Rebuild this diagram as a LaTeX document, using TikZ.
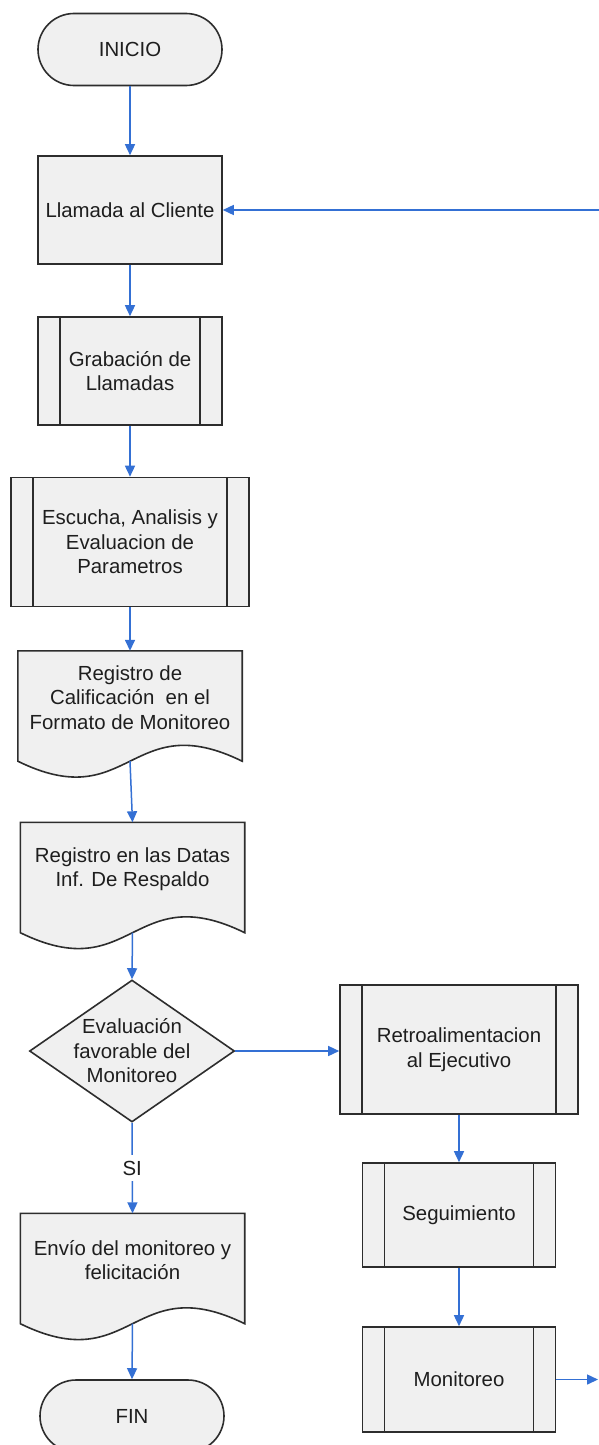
\documentclass[tikz,border=0pt]{standalone}
\usepackage{fontspec}
\setmainfont{Liberation Sans}
\usetikzlibrary{arrows.meta,calc,shapes.geometric,backgrounds}

\definecolor{boxfill}{RGB}{240,240,240}
\definecolor{boxline}{RGB}{45,45,45}
\definecolor{flowblue}{RGB}{52,112,212}
\definecolor{txtgray}{RGB}{30,30,30}

% outline of a document symbol (wavy lower edge) around a named node
\newcommand\docoutline[1]{%
  \begin{pgfonlayer}{background}
    \draw[draw=boxline, line width=1.6pt, fill=boxfill, line join=miter]
      (#1.north west) -- (#1.north east) -- (#1.south east)
      .. controls ($(#1.south)+(0,-55)$) and ($(#1.south)+(0,55)$) .. (#1.south west) -- cycle;
  \end{pgfonlayer}}

\tikzset{
  every node/.style={font=\fontsize{20.4}{24.5}\selectfont, text=txtgray},
  box/.style={draw=boxline, line width=1.6pt, fill=boxfill, align=center, inner sep=0pt},
  terminal/.style={box, rectangle, rounded corners=36pt, minimum width=184pt, minimum height=72pt},
  proc/.style={box, rectangle},
  subproc/.style={proc,
    path picture={
      \draw[boxline, line width=1.6pt]
        ([xshift=22pt]path picture bounding box.north west) -- ([xshift=22pt]path picture bounding box.south west)
        ([xshift=-22pt]path picture bounding box.north east) -- ([xshift=-22pt]path picture bounding box.south east);
    }},
  docnode/.style={rectangle, inner sep=0pt, minimum width=224pt, minimum height=110pt},
  doctext/.style={align=center, yshift=8.5pt},
  decision/.style={box, diamond, minimum width=205pt, minimum height=142pt},
  flow/.style={draw=flowblue, line width=1.5pt, -{Triangle[length=11pt,width=10pt]}},
}

\begin{document}
\begin{tikzpicture}[x=1pt, y=-1pt]
  \useasboundingbox (0,0) rectangle (599,1445);
  \begin{pgfonlayer}{background}
    \fill[white] (0,0) rectangle (599,1445);
  \end{pgfonlayer}
  \clip (0,0) rectangle (599,1445);

  % main column
  \node[terminal] (ini) at (130,49.5) {INICIO};
  \node[proc, minimum width=184pt, minimum height=108pt] (call) at (130,210) {Llamada al Cliente};
  \node[subproc, minimum width=184pt, minimum height=108pt] (rec) at (130,371) {Grabación de\\Llamadas};
  \node[subproc, minimum width=238pt, minimum height=129pt] (eval) at (130,542) {Escucha, Analisis y\\Evaluacion de\\Parametros};

  \node[docnode, label={[doctext]center:Registro de\\Calificación~ en el\\Formato de Monitoreo}] (d1) at (130,706) {};
  \docoutline{d1}
  \node[docnode, label={[doctext]center:Registro en las Datas\\Inf. De Respaldo}] (d2) at (132.5,877.5) {};
  \docoutline{d2}

  \node[decision, label={[align=center]center:Evaluación\\favorable del\\Monitoreo}] (dec) at (132,1051) {};

  \node[docnode, label={[doctext]center:Envío del monitoreo y\\felicitación}] (d3) at (132.5,1268.5) {};
  \docoutline{d3}
  \node[terminal] (fin) at (132,1416) {FIN};

  % right column
  \node[subproc, minimum width=238pt, minimum height=129pt] (fb) at (459,1049.5) {Retroalimentacion\\al Ejecutivo};
  \node[subproc, minimum width=193pt, minimum height=104pt] (track) at (459,1215) {Seguimiento};
  \node[subproc, minimum width=193pt, minimum height=105pt] (mon) at (459,1379.5) {Monitoreo};

  % loose ends of the return loop
  \coordinate (loopin) at (615,210);
  \coordinate (loopout) at (598,1379.5);

  % connectors
  \draw[flow] (ini) -- (call);
  \draw[flow] (call) -- (rec);
  \draw[flow] (rec) -- (eval);
  \draw[flow] (eval) -- (d1.north -| eval);
  \draw[flow] (d1.south) -- (d2.north);
  \draw[flow] (d2.south) -- (dec.north);
  \draw[flow] (dec.south) -- node[fill=white, inner sep=6pt] {SI} (d3.north);
  \draw[flow] (d3.south) -- (fin.north);
  \draw[flow] (dec.east) -- (dec.east -| fb.west);
  \draw[flow] (fb) -- (track);
  \draw[flow] (track) -- (mon);
  \draw[flow] (mon.east) -- (loopout);
  \draw[flow] (loopin) -- (call.east);
\end{tikzpicture}
\end{document}
